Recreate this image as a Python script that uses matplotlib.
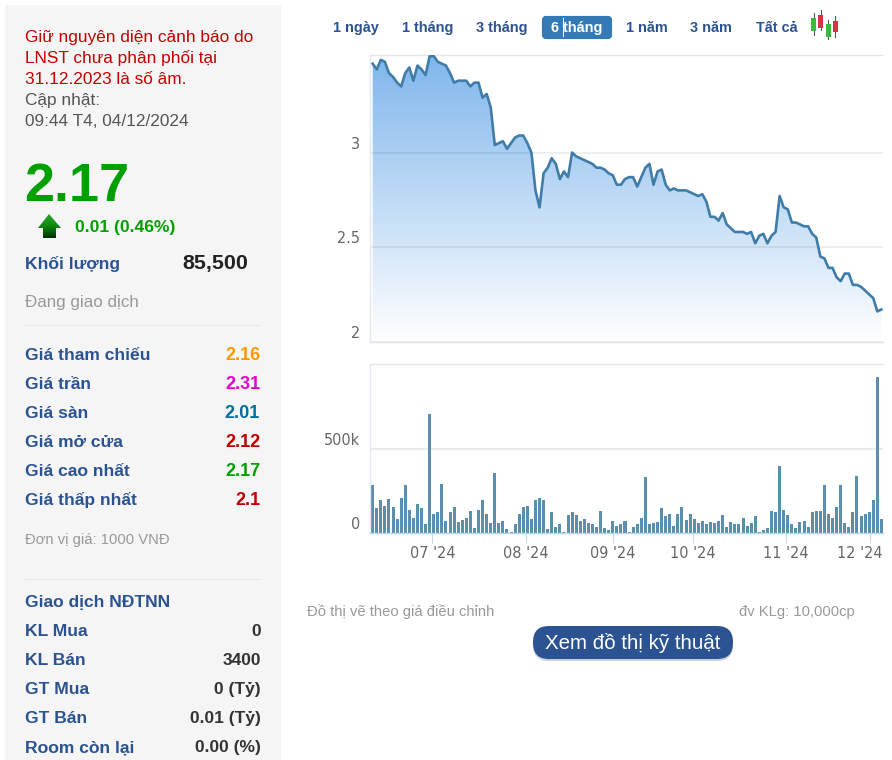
import matplotlib
matplotlib.use('Agg')
import matplotlib.pyplot as plt
import matplotlib.transforms as mtrans
from matplotlib.colors import LinearSegmentedColormap
from matplotlib.patches import FancyBboxPatch, Polygon, Rectangle
import numpy as np

plt.rcParams['font.family'] = ['Liberation Sans', 'DejaVu Sans']

# Chart data, one value per trading day
price = [3.47, 3.44, 3.49, 3.48, 3.42, 3.40, 3.37, 3.35, 3.42, 3.45, 3.38, 3.46, 3.44, 3.41, 3.51, 3.51,
         3.48, 3.47, 3.46, 3.42, 3.37, 3.38, 3.38, 3.38, 3.35, 3.37, 3.37, 3.29, 3.31, 3.24, 3.04, 3.05,
         3.06, 3.02, 3.05, 3.08, 3.09, 3.09, 3.05, 3.00, 2.80, 2.71, 2.89, 2.92, 2.97, 2.94, 2.86, 2.90,
         2.87, 3.00, 2.98, 2.97, 2.96, 2.95, 2.94, 2.92, 2.92, 2.91, 2.89, 2.88, 2.83, 2.83, 2.86, 2.87,
         2.87, 2.82, 2.87, 2.92, 2.94, 2.83, 2.90, 2.91, 2.83, 2.80, 2.81, 2.80, 2.80, 2.80, 2.79, 2.78,
         2.77, 2.78, 2.74, 2.66, 2.66, 2.64, 2.68, 2.62, 2.60, 2.58, 2.58, 2.58, 2.57, 2.58, 2.52, 2.56,
         2.57, 2.52, 2.56, 2.58, 2.77, 2.71, 2.70, 2.63, 2.63, 2.62, 2.61, 2.61, 2.57, 2.55, 2.45, 2.44,
         2.39, 2.39, 2.34, 2.32, 2.36, 2.36, 2.30, 2.30, 2.29, 2.27, 2.25, 2.23, 2.16, 2.17]
volume = [284, 148, 196, 164, 204, 156, 84, 212, 284, 140, 92, 172, 148, 52, 714, 116, 124, 294, 74, 124,
          156, 68, 76, 92, 132, 28, 140, 196, 116, 60, 358, 60, 74, 26, 8, 52, 116, 156, 164, 84,
          196, 212, 196, 26, 124, 36, 52, 8, 108, 124, 108, 74, 84, 60, 52, 36, 132, 28, 20, 74,
          44, 52, 74, 8, 36, 52, 92, 334, 52, 60, 68, 148, 100, 116, 44, 116, 156, 76, 116, 84,
          60, 74, 52, 68, 60, 74, 108, 36, 68, 52, 52, 92, 44, 60, 100, 8, 20, 28, 132, 124,
          398, 140, 108, 52, 28, 68, 74, 36, 124, 132, 132, 284, 116, 92, 156, 284, 60, 36, 124, 342,
          100, 116, 124, 196, 934, 84]
month_pos = [14.66, 37.6, 59.1, 78.7, 101.6, 122.2]
month_labels = ["07 '24", "08 '24", "09 '24", "10 '24", "11 '24", "12 '24"]
price_ticks = [2, 2.5, 3]
price_tick_labels = ['2', '2.5', '3']
volume_ticks = [0, 500]
volume_tick_labels = ['0', '500k']

range_labels = ['1 ngày', '1 tháng', '3 tháng', '6 tháng', '1 năm', '3 năm', 'Tất cả']
notice_lines = ['Giữ nguyên diện cảnh báo do', 'LNST chưa phân phối tại', '31.12.2023 là số âm.']
quote_labels = ['Giá tham chiếu', 'Giá trần', 'Giá sàn', 'Giá mở cửa', 'Giá cao nhất', 'Giá thấp nhất']
quote_values = ['2.16', '2.31', '2.01', '2.12', '2.17', '2.1']
foreign_labels = ['KL Mua', 'KL Bán', 'GT Mua', 'GT Bán', 'Room còn lại']
foreign_values = ['0', '3400', '0 (Tỷ)', '0.01 (Tỷ)', '0.00 (%)']

W, H = 892, 760
BLUE = '#2c5391'
GREEN = '#00a000'
GRAY = '#999999'
GRID = '#e6e6e6'
AXIS = '#e3e8f3'
TICK = '#666666'


def px(size):
    return size * 0.72


def axes_at(left, top, right, bottom):
    return fig.add_axes([left / W, 1 - bottom / H, (right - left) / W, (bottom - top) / H])


def shift(dx, dy):
    return mtrans.ScaledTranslation(dx / 100, dy / 100, fig.dpi_scale_trans)


fig = plt.figure(figsize=(W / 100, H / 100), dpi=100, facecolor='white')

# Page layer in pixel coordinates
page = fig.add_axes([0, 0, 1, 1])
page.axis('off')
page.add_patch(Rectangle((5, 5), 276, 755, color='#f5f5f5', lw=0))


def label(x, y, s, size, color, bold=False, ha='left'):
    page.text(x, y, s, fontsize=px(size), color=color, ha=ha, va='baseline',
              fontweight='bold' if bold else 'normal')


# Left panel
for i, line in enumerate(notice_lines):
    label(25, 42 + 21 * i, line, 17.3, '#c40000')
label(25, 105, 'Cập nhật:', 17.3, '#555555')
label(25, 126, '09:44 T4, 04/12/2024', 17.3, '#555555')
label(24, 201, '2.17', 54, GREEN, bold=True)
label(75, 232, '0.01 (0.46%)', 17.5, GREEN, bold=True)
label(25, 269, 'Khối lượng', 17.5, BLUE, bold=True)
label(248, 269, '85,500', 21.5, '#222222', bold=True, ha='right')
label(25, 307, 'Đang giao dịch', 17, GRAY)
page.plot([25, 260], [325, 325], color='#e8e8e8', lw=0.8)

quote_colors = ['#ff9900', '#e600c8', '#006f9b', '#c00000', GREEN, '#c00000']
for i in range(len(quote_labels)):
    label(25, 360 + 29 * i, quote_labels[i], 17.5, BLUE, bold=True)
    label(260, 360 + 29 * i, quote_values[i], 18, quote_colors[i], bold=True, ha='right')
label(25, 544, 'Đơn vị giá: 1000 VNĐ', 14.8, GRAY)
page.plot([25, 260], [579, 579], color='#e8e8e8', lw=0.8)
label(25, 607, 'Giao dịch NĐTNN', 17.4, BLUE, bold=True)
for i in range(len(foreign_labels)):
    label(25, 636 + 29 * i, foreign_labels[i], 17.5, BLUE, bold=True)
    label(261, 636 + 29 * i, foreign_values[i], 17.4, '#333333', bold=True, ha='right')

# Green arrow with a dark foot
arrow = Polygon([(49, 214), (61, 228), (56, 228), (56, 238), (43, 238), (43, 228), (38, 228)],
                transform=page.transData, fc='none', ec='none')
page.add_patch(arrow)
arrow_cmap = LinearSegmentedColormap.from_list('arrow', ['#2fa32f', '#0c8a0c', '#003000'])
arrow_img = page.imshow(np.linspace(0, 1, 64).reshape(-1, 1), cmap=arrow_cmap, aspect='auto',
                        extent=[38, 61, 238, 214], zorder=2)
arrow_img.set_clip_path(arrow)

# Range buttons above the chart
range_x = [333, 402, 476, 551, 626, 690, 756]
page.add_patch(FancyBboxPatch((544, 18), 66, 19, boxstyle='round,pad=0,rounding_size=2', fc='#337ab7',
                              ec='#337ab7', lw=3))
for x, s in zip(range_x, range_labels):
    label(x, 32, s, 14.5, 'white' if s == '6 tháng' else BLUE, bold=True)
page.plot([563, 563], [18, 36], color='white', lw=0.8)

# Small candlestick icon
candle_x = [813.5, 820.5, 828, 835]
candle_colors = ['#3cb83c', '#d9333f', '#3cb83c', '#d9333f']
wicks = [(13, 35), (10, 30), (20, 39), (16, 37)]
bodies = [(17.5, 31), (15, 28), (23.5, 37), (21, 32)]
for x, c, w, b in zip(candle_x, candle_colors, wicks, bodies):
    page.plot([x, x], w, color='#555555', lw=0.8, zorder=2)
    page.add_patch(Rectangle((x - 2.5, b[0]), 5, b[1] - b[0], fc=c, ec='none', zorder=3))

# Notes and button under the chart
label(307, 616, 'Đồ thị vẽ theo giá điều chỉnh', 14.7, GRAY)
label(855, 616, 'đv KLg: 10,000cp', 14.8, GRAY, ha='right')
page.add_patch(FancyBboxPatch((533, 628), 200, 33, boxstyle='round,pad=0,rounding_size=16', fc='#c9d0dc',
                              ec='none', lw=0))
page.add_patch(FancyBboxPatch((533, 626), 200, 33, boxstyle='round,pad=0,rounding_size=16', fc=BLUE,
                              ec='none', lw=0))
label(633, 649, 'Xem đồ thị kỹ thuật', 20.5, 'white', ha='center')

page.set_xlim(0, W)
page.set_ylim(H, 0)

days = np.arange(len(price))
xlim = (-0.66, 125.4)

# Price chart
ax = axes_at(370, 55, 883, 342)
ax.set_xlim(xlim)
ax.set_ylim(1.998, 3.516)
ax.patch.set_alpha(0)
fill_cmap = LinearSegmentedColormap.from_list('fill', ['#7fb6ec', '#ffffff'])
fill_img = ax.imshow(np.linspace(0, 1, 256).reshape(-1, 1), cmap=fill_cmap, aspect='auto',
                     extent=[xlim[0], xlim[1], 1.998, 3.516], zorder=1)
area = Polygon(list(zip(days, price)) + [(days[-1], 1.998), (days[0], 1.998)], transform=ax.transData,
               fc='none', ec='none')
ax.add_patch(area)
fill_img.set_clip_path(area)
ax.set_xlim(xlim)
ax.set_ylim(1.998, 3.516)
ax.hlines(price_ticks, xlim[0], xlim[1], color='black', alpha=0.08, lw=1.2, zorder=2)
ax.plot(days, price, color='#3f7da8', lw=1.9, zorder=3)
ax.set_xticks([])
ax.set_yticks(price_ticks)
ax.set_yticklabels(price_tick_labels, fontsize=px(14.5), color=TICK, family=['DejaVu Sans'])
ax.tick_params(axis='y', length=0, pad=7)
for t in ax.get_yticklabels():
    t.set_va('bottom')
    t.set_transform(t.get_transform() + shift(0, 1))

# Volume chart
ax2 = axes_at(370, 364, 883, 533)
ax2.set_xlim(xlim)
ax2.set_ylim(0, 1010)
ax2.patch.set_alpha(0)
ax2.hlines([500], xlim[0], xlim[1], color=GRID, lw=1.2, zorder=1)
ax2.bar(days, volume, width=0.74, color='#5a90ae', zorder=2)
ax2.set_xticks(month_pos)
ax2.set_xticklabels(month_labels, fontsize=px(14.5), color=TICK, family=['DejaVu Sans'])
ax2.tick_params(axis='x', length=7.5, width=0.8, color='#ccd6eb', pad=1.5)
ax2.set_yticks(volume_ticks)
ax2.set_yticklabels(volume_tick_labels, fontsize=px(14.5), color=TICK, family=['DejaVu Sans'])
ax2.tick_params(axis='y', length=0, pad=7)
for t in ax2.get_yticklabels():
    t.set_va('bottom')
    t.set_transform(t.get_transform() + shift(0, 1))
last = ax2.get_xticklabels()[-1]
last.set_transform(last.get_transform() + shift(-10, 0))

for a in (ax, ax2):
    a.spines['top'].set_color(GRID)
    a.spines['right'].set_visible(False)
    a.spines['left'].set_color(AXIS)
    a.spines['bottom'].set_color(GRID if a is ax else '#b5d8ea')
    for s in a.spines.values():
        s.set_linewidth(1.0)

fig.savefig('out.png', dpi=100)
